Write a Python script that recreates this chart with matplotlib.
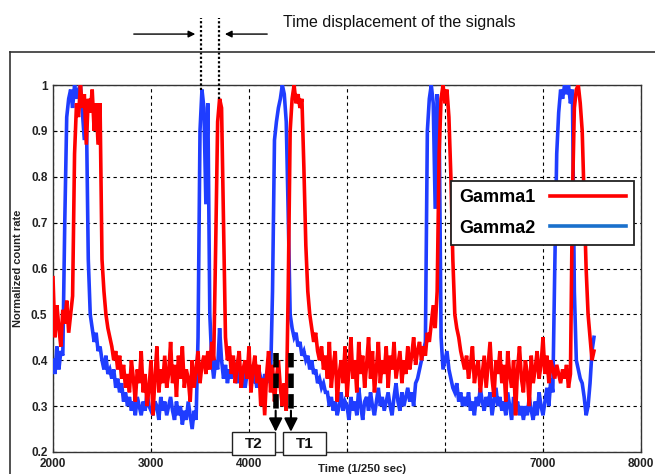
import numpy as np
import matplotlib
matplotlib.use('Agg')
import matplotlib.pyplot as plt
from matplotlib.lines import Line2D
from matplotlib.patches import Rectangle

plt.rcParams['font.family'] = ['Liberation Sans', 'DejaVu Sans']

# sample times (1/250 sec), one reading every 20 units
t_start, t_step = 2000, 20

gamma2 = [
    0.40, 0.37, 0.43, 0.38, 0.42, 0.41, 0.70, 0.93, 0.97, 0.99,
    0.95, 1.00, 0.97, 0.99, 1.00, 0.94, 0.88, 0.95, 0.62, 0.50,
    0.47, 0.44, 0.46, 0.42, 0.43, 0.40, 0.38, 0.41, 0.37, 0.38,
    0.36, 0.38, 0.34, 0.36, 0.33, 0.35, 0.31, 0.33, 0.30, 0.32,
    0.29, 0.31, 0.28, 0.32, 0.30, 0.28, 0.31, 0.29, 0.33, 0.30,
    0.29, 0.28, 0.31, 0.30, 0.27, 0.32, 0.29, 0.31, 0.28, 0.30,
    0.32, 0.29, 0.27, 0.31, 0.28, 0.30, 0.26, 0.29, 0.27, 0.31,
    0.28, 0.25, 0.29, 0.27, 0.45, 0.90, 0.99, 0.95, 0.74, 0.96,
    0.50, 0.40, 0.36, 0.40, 0.38, 0.47, 0.40, 0.36, 0.39, 0.35,
    0.38, 0.36, 0.40, 0.37, 0.35, 0.39, 0.36, 0.38, 0.34, 0.37,
    0.36, 0.39, 0.35, 0.37, 0.34, 0.38, 0.36, 0.33, 0.37, 0.35,
    0.38, 0.36, 0.55, 0.88, 0.92, 0.95, 0.97, 1.00, 0.98, 0.92,
    0.72, 0.50, 0.47, 0.45, 0.46, 0.43, 0.44, 0.41, 0.42, 0.40,
    0.41, 0.38, 0.40, 0.37, 0.38, 0.35, 0.36, 0.34, 0.35, 0.33,
    0.33, 0.30, 0.32, 0.29, 0.31, 0.28, 0.30, 0.33, 0.29, 0.31,
    0.30, 0.27, 0.32, 0.29, 0.31, 0.28, 0.34, 0.30, 0.27, 0.31,
    0.32, 0.29, 0.33, 0.30, 0.28, 0.31, 0.34, 0.30, 0.32, 0.29,
    0.31, 0.33, 0.30, 0.28, 0.32, 0.35, 0.31, 0.29, 0.33, 0.30,
    0.32, 0.34, 0.31, 0.33, 0.30, 0.35, 0.36, 0.38, 0.40, 0.42,
    0.44, 0.90, 0.97, 1.00, 0.96, 0.73, 0.98, 0.93, 0.45, 0.38,
    0.40, 0.42, 0.38, 0.36, 0.34, 0.33, 0.35, 0.31, 0.33, 0.30,
    0.32, 0.30, 0.33, 0.29, 0.31, 0.28, 0.32, 0.30, 0.34, 0.31,
    0.29, 0.32, 0.30, 0.33, 0.28, 0.31, 0.34, 0.30, 0.32, 0.29,
    0.31, 0.28, 0.33, 0.30, 0.27, 0.32, 0.29, 0.31, 0.28, 0.30,
    0.27, 0.30, 0.28, 0.32, 0.29, 0.27, 0.31, 0.28, 0.33, 0.30,
    0.28, 0.31, 0.34, 0.30, 0.36, 0.33, 0.60, 0.85, 0.94, 0.99,
    0.97, 1.00, 0.98, 1.00, 0.96, 0.99, 0.55, 0.40, 0.38, 0.36,
    0.35, 0.32, 0.28, 0.30, 0.35, 0.42, 0.45,
]

gamma1 = [
    0.58, 0.45, 0.52, 0.47, 0.43, 0.51, 0.48, 0.53, 0.46, 0.50,
    0.54, 0.85, 0.96, 0.93, 1.00, 0.95, 0.98, 0.87, 0.97, 0.94,
    0.99, 0.90, 0.96, 0.87, 0.96, 0.62, 0.55, 0.50, 0.47, 0.45,
    0.43, 0.40, 0.42, 0.38, 0.41, 0.36, 0.39, 0.34, 0.37, 0.33,
    0.40, 0.36, 0.31, 0.38, 0.35, 0.42, 0.33, 0.37, 0.30, 0.34,
    0.40, 0.28, 0.36, 0.43, 0.33, 0.38, 0.35, 0.41, 0.34, 0.37,
    0.44, 0.35, 0.39, 0.32, 0.41, 0.36, 0.43, 0.34, 0.38, 0.36,
    0.31, 0.40, 0.34, 0.38, 0.42, 0.35, 0.39, 0.41, 0.37, 0.42,
    0.38, 0.44, 0.40, 0.65, 0.92, 0.97, 0.95, 0.70, 0.45, 0.40,
    0.43, 0.37, 0.41, 0.35, 0.39, 0.42, 0.34, 0.38, 0.40, 0.36,
    0.43, 0.33, 0.38, 0.41, 0.35, 0.39, 0.30, 0.36, 0.28, 0.37,
    0.42, 0.33, 0.39, 0.31, 0.36, 0.40, 0.34, 0.30, 0.35, 0.29,
    0.55, 0.90, 0.97, 1.00, 0.96, 0.98, 0.95, 0.97, 0.82, 0.65,
    0.55, 0.50, 0.47, 0.44, 0.46, 0.42, 0.40, 0.43, 0.38, 0.41,
    0.36, 0.44, 0.34, 0.39, 0.42, 0.31, 0.37, 0.40, 0.35, 0.43,
    0.32, 0.38, 0.45, 0.36, 0.40, 0.33, 0.44, 0.37, 0.41, 0.34,
    0.39, 0.45, 0.36, 0.42, 0.33, 0.38, 0.44, 0.35, 0.40, 0.37,
    0.43, 0.34, 0.41, 0.38, 0.44, 0.36, 0.39, 0.42, 0.35, 0.40,
    0.37, 0.43, 0.38, 0.41, 0.45, 0.39, 0.42, 0.44, 0.40, 0.43,
    0.41, 0.46, 0.44, 0.48, 0.52, 0.47, 0.55, 0.85, 0.97, 1.00,
    0.96, 0.99, 0.93, 0.80, 0.62, 0.50, 0.47, 0.45, 0.42, 0.40,
    0.38, 0.41, 0.36, 0.39, 0.43, 0.35, 0.38, 0.40, 0.33, 0.37,
    0.41, 0.34, 0.39, 0.44, 0.36, 0.32, 0.40, 0.37, 0.42, 0.35,
    0.39, 0.31, 0.42, 0.37, 0.34, 0.40, 0.28, 0.38, 0.43, 0.36,
    0.33, 0.40, 0.37, 0.30, 0.41, 0.35, 0.38, 0.42, 0.36, 0.39,
    0.45, 0.37, 0.41, 0.35, 0.40, 0.38, 0.36, 0.39, 0.37, 0.35,
    0.38, 0.36, 0.39, 0.34, 0.37, 0.75, 0.95, 0.99, 1.00, 0.96,
    0.90, 0.75, 0.60, 0.50, 0.45, 0.40, 0.42,
]

time = t_start + t_step * np.arange(len(gamma1))

x_ticks = [2000, 3000, 4000, 5000, 6000, 7000, 8000]
x_ticklabels = ['2000', '3000', '4000', '', '', '7000', '8000']
y_ticks = [0.2, 0.3, 0.4, 0.5, 0.6, 0.7, 0.8, 0.9, 1.0]
y_ticklabels = ['0.2', '0.3', '0.4', '0.5', '0.6', '0.7', '0.8', '0.9', '1']

# marker times for the annotations
peak_blue, peak_red = 3510, 3694
t2_time, t1_time = 4272, 4428

red = '#ff0000'
blue = '#1f3dff'

W, H = 655, 474
fig = plt.figure(figsize=(W / 100, H / 100), dpi=100)
ax = fig.add_axes([53 / W, 1 - 452 / H, (641 - 53) / W, (452 - 85) / H])

ax.plot(time, gamma2, color=blue, lw=2.6, zorder=3, solid_joinstyle='miter')
ax.plot(time, gamma1, color=red, lw=2.6, zorder=4, solid_joinstyle='miter')

ax.set_xlim(2000, 8000)
ax.set_ylim(0.2, 1.0)
ax.set_xticks(x_ticks)
ax.set_xticklabels(x_ticklabels)
ax.set_yticks(y_ticks)
ax.set_yticklabels(y_ticklabels)
ax.tick_params(direction='in', length=3, width=0.8, labelsize=8.5, labelcolor='#222222')
ax.tick_params(axis='x', pad=4.5)
ax.tick_params(axis='y', pad=4)
for lab in ax.get_xticklabels() + ax.get_yticklabels():
    lab.set_fontweight('bold')

ax.grid(True, which='major', color='black', ls=(0, (3, 3)), lw=0.8)
for sp in ax.spines.values():
    sp.set_linewidth(1.0)
    sp.set_color('#333333')

ax.set_ylabel('Normalized count rate', fontsize=8, fontweight='bold', color='#222222')
ax.yaxis.set_label_coords((23 - 53) / (641 - 53), 0.5)
fig.text(362 / W, 1 - 469 / H, 'Time (1/250 sec)', fontsize=8.2, fontweight='bold',
         color='#222222', ha='center', va='center')

# legend with text first, line after
handles = [Line2D([], [], color=red, lw=2.6), Line2D([], [], color='#1a70cc', lw=2.6)]
leg = ax.legend(handles, ['Gamma1', 'Gamma2'], markerfirst=False, loc='upper left',
                bbox_to_anchor=(451 / W, 1 - 181 / H), bbox_transform=fig.transFigure,
                borderaxespad=0, fancybox=False, framealpha=1, edgecolor='#222222',
                prop={'weight': 'bold', 'size': 13}, handlelength=4.2,
                handletextpad=0.8, labelspacing=0.75, borderpad=0.45)
leg.get_frame().set_linewidth(1.3)
leg.set_zorder(10)

# time displacement annotation at the top
for tp, ytop in [(peak_blue, 0.99), (peak_red, 0.97)]:
    ax.plot([tp, tp], [ytop, 1.146], color='black', ls=(0, (1, 1)), lw=1.6, clip_on=False, zorder=6)
ax.annotate('', xy=(3480, 1.111), xytext=(2796, 1.111), annotation_clip=False,
            arrowprops=dict(arrowstyle='-|>', color='black', lw=1.0, mutation_scale=10))
ax.annotate('', xy=(3726, 1.111), xytext=(4214, 1.111), annotation_clip=False,
            arrowprops=dict(arrowstyle='-|>', color='black', lw=1.0, mutation_scale=10))
fig.text(283 / W, 1 - 22 / H, 'Time displacement of the signals', fontsize=11.5,
         ha='left', va='center', color='#111111')

# T1 / T2 markers
for tp in [t2_time, t1_time]:
    ax.plot([tp, tp], [0.416, 0.285], color='black', ls=(0, (2.6, 1.1)), lw=4.0, zorder=7)
    ax.annotate('', xy=(tp, 0.244), xytext=(tp, 0.29), annotation_clip=False, zorder=7,
                arrowprops=dict(arrowstyle='-|>', color='black', lw=1.5, mutation_scale=20,
                                shrinkA=0, shrinkB=0))

for label, x0, x1 in [('T2', 232, 275), ('T1', 283, 326)]:
    fig.add_artist(Rectangle((x0 / W, 1 - 455 / H), (x1 - x0) / W, 23 / H,
                             transform=fig.transFigure, facecolor='white',
                             edgecolor='#222222', lw=1.0, zorder=8))
    fig.text((x0 + x1) / 2 / W, 1 - 444 / H, label, fontsize=11, fontweight='bold',
             ha='center', va='center', zorder=9, color='#111111')

# outer frame (open to the right and bottom)
fig.add_artist(Line2D([10 / W, 1], [1 - 52 / H, 1 - 52 / H], transform=fig.transFigure,
                      color='#333333', lw=1.2))
fig.add_artist(Line2D([10 / W, 10 / W], [1 - 52 / H, 0], transform=fig.transFigure,
                      color='#333333', lw=1.2))

fig.savefig('out.png', dpi=100)
